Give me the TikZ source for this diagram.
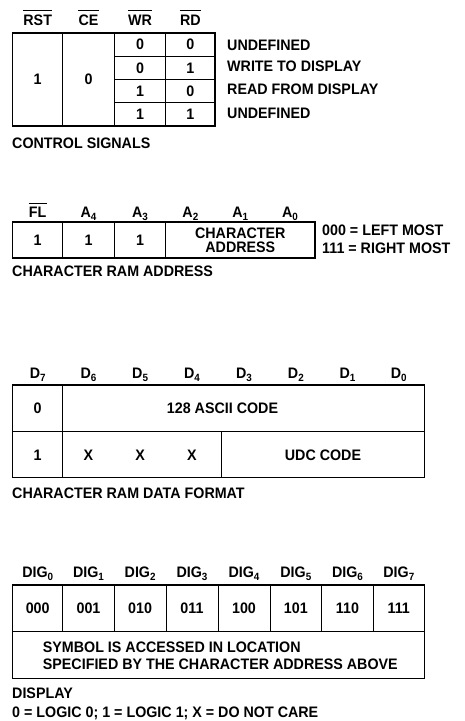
\documentclass[tikz,border=0pt]{standalone}
\usepackage{fontspec}
\setmainfont{Liberation Sans}[FakeStretch=0.94]
\newcommand\lo[1]{\raisebox{-3pt}{\fontsize{10.5}{10.5}\selectfont #1}}
\begin{document}
\begin{tikzpicture}[x=1pt,y=-1pt,
  txt/.style={inner sep=0pt,anchor=base,font=\bfseries\fontsize{15.2}{16}\selectfont},
  ltxt/.style={txt,anchor=base west},
  outer/.style={line width=1.4pt},
  inner/.style={line width=0.8pt},
  bar/.style={line width=0.9pt}]
\useasboundingbox (0,0) rectangle (464,721);
% ---------- Table 1: control signals
\node[txt] (hrst) at (37.7,25) {RST};
\node[txt] (hce)  at (88.5,25) {CE};
\node[txt] (hwr)  at (140,25) {WR};
\node[txt] (hrd)  at (190.4,25) {RD};
\foreach \n in {hrst,hce,hwr,hrd}
  \draw[bar] ([yshift=3.5pt]\n.north west) -- ([yshift=3.5pt]\n.north east);
\draw[inner] (62.7,33) -- (62.7,126) (114.3,33) -- (114.3,126) (165.7,33) -- (165.7,126);
\draw[inner] (114.3,56) -- (215,56) (114.3,79.3) -- (215,79.3) (114.3,102.7) -- (215,102.7);
\draw[outer] (12.7,33) rectangle (215,126);
\node[txt] (c1a) at (37.7,84.8) {1};
\node[txt] (c1b) at (88.5,84.8) {0};
\node[txt] (r1a) at (140,49.8) {0};   \node[txt] (r1b) at (190.4,49.8) {0};
\node[txt] (r2a) at (140,73) {0};     \node[txt] (r2b) at (190.4,73) {1};
\node[txt] (r3a) at (140,96.4) {1};   \node[txt] (r3b) at (190.4,96.4) {0};
\node[txt] (r4a) at (140,119.8) {1};  \node[txt] (r4b) at (190.4,119.8) {1};
\node[ltxt] (l1) at (227,50.5) {UNDEFINED};
\node[ltxt] (l2) at (227,71) {WRITE TO DISPLAY};
\node[ltxt] (l3) at (227,94) {READ FROM DISPLAY};
\node[ltxt] (l4) at (227,118.5) {UNDEFINED};
\node[ltxt] (t1) at (12,148.5) {CONTROL SIGNALS};
% ---------- Table 2: character RAM address
\node[txt] (hfl) at (37.7,217) {FL};
\draw[bar] ([yshift=3pt]hfl.north west) -- ([yshift=3pt]hfl.north east);
\node[txt] (ha4) at (88.5,217) {A\lo{4}};
\node[txt] (ha3) at (140,217) {A\lo{3}};
\node[txt] (ha2) at (190.4,217) {A\lo{2}};
\node[txt] (ha1) at (240.3,217) {A\lo{1}};
\node[txt] (ha0) at (290,217) {A\lo{0}};
\draw[inner] (62.7,222) -- (62.7,258) (114.3,222) -- (114.3,258) (165.7,222) -- (165.7,258);
\draw[outer] (12.7,222) rectangle (315,258);
\node[txt] (a1) at (37.7,245.5) {1};
\node[txt] (a2) at (88.5,245.5) {1};
\node[txt] (a3) at (140,245.5) {1};
\node[txt] (ca1) at (240.3,238) {CHARACTER};
\node[txt] (ca2) at (240.3,252.5) {ADDRESS};
\node[ltxt] (m1) at (322,235.5) {000 = LEFT MOST};
\node[ltxt] (m2) at (322,253.5) {111 = RIGHT MOST};
\node[ltxt] (t2) at (12,276) {CHARACTER RAM ADDRESS};
% ---------- Table 3: character RAM data format
\foreach \x/\i in {37.7/7,88.5/6,140.15/5,192/4,244/3,295.85/2,347.5/1,398.8/0}
  \node[txt] (hd\i) at (\x,378) {D\lo{\i}};
\draw[inner] (62.7,385) -- (62.7,477.7) (221.7,431.7) -- (221.7,477.7) (12.7,431.7) -- (424.3,431.7);
\draw[outer] (12.7,385) rectangle (424.3,477.7);
\node[txt] (d0) at (37.7,413.8) {0};
\node[txt] (asc) at (222.5,413.8) {128 ASCII CODE};
\node[txt] (d1) at (37.7,460.8) {1};
\node[txt] (x1) at (88.5,460.8) {X};
\node[txt] (x2) at (140.15,460.8) {X};
\node[txt] (x3) at (192,460.8) {X};
\node[txt] (udc) at (323,460.8) {UDC CODE};
\node[ltxt] (t3) at (12,498.5) {CHARACTER RAM DATA FORMAT};
% ---------- Table 4: display
\foreach \x/\i in {37.7/0,88.5/1,140.15/2,192/3,244/4,295.85/5,347.5/6,398.8/7}
  \node[txt] (hg\i) at (\x,577) {DIG\lo{\i}};
\foreach \x in {62.7,114.3,166,218.3,270,321.7,373.3}
  \draw[inner] (\x,585) -- (\x,631.7);
\draw[inner] (12.7,631.7) -- (424.3,631.7);
\draw[outer] (12.7,585) rectangle (424.3,678.3);
\foreach \x/\v/\i in {37.7/000/0,88.5/001/1,140.15/010/2,192/011/3,244/100/4,295.85/101/5,347.5/110/6,398.8/111/7}
  \node[txt] (v\i) at (\x,613.8) {\v};
\node[ltxt] (s1) at (42.7,652) {SYMBOL IS ACCESSED IN LOCATION};
\node[ltxt] (s2) at (42.7,669.5) {SPECIFIED BY THE CHARACTER ADDRESS ABOVE};
\node[ltxt] (t4) at (12,698.5) {DISPLAY};
\node[ltxt] (t5) at (12,717) {0 = LOGIC 0; 1 = LOGIC 1; X = DO NOT CARE};
\end{tikzpicture}
\end{document}
